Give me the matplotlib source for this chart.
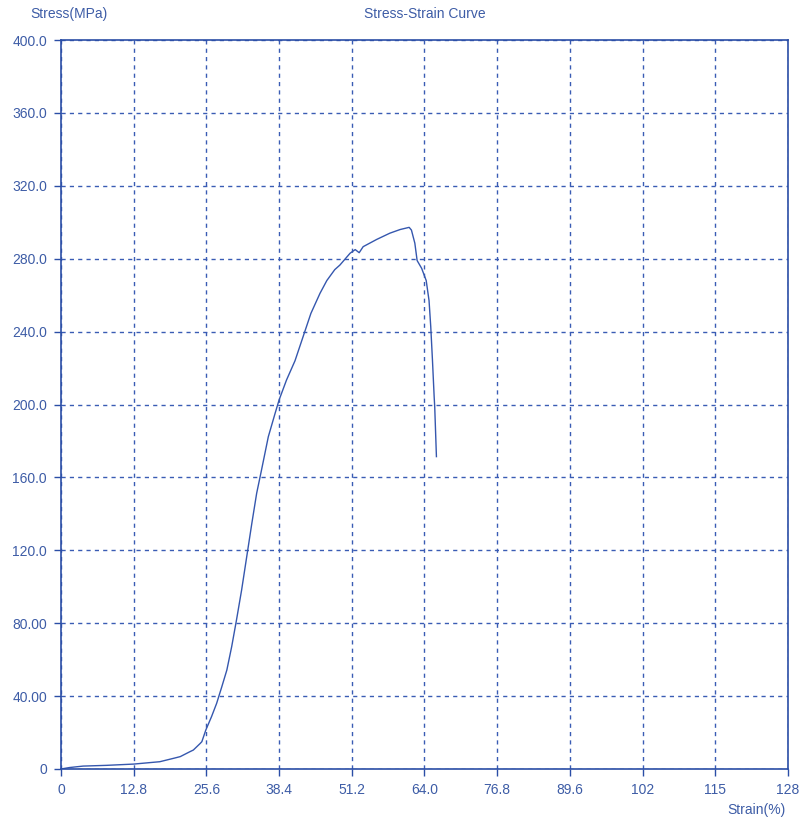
import matplotlib

matplotlib.use("Agg")
import matplotlib.pyplot as plt  # noqa: E402

# stress-strain test record, read at the plotted resolution
strain_pct = [0.0, 1.5, 3.9, 8.0, 12.8, 17.4, 20.0, 21.0, 22.7, 23.3, 24.5, 24.8,
              25.5, 26.5, 27.4, 28.3, 29.2, 30.05, 30.9, 31.8, 32.7, 33.6, 34.45,
              35.3, 36.5, 37.7, 38.4, 39.7, 41.2, 42.6, 44.0, 45.6, 46.8, 48.2,
              49.1, 50.9, 51.8, 52.5, 53.2, 55.6, 57.9, 59.7, 61.3, 61.7, 62.3,
              62.7, 63.5, 64.3, 64.8, 65.1, 65.4, 65.7, 65.8, 66.1]
stress_mpa = [0.0, 0.8, 1.6, 2.0, 2.7, 4.0, 6.0, 6.8, 9.5, 10.4, 14.0, 15.0,
              21.4, 28.7, 36.0, 45.0, 54.3, 67.1, 81.8, 98.2, 116.5, 134.8, 151.3,
              164.0, 182.3, 195.2, 202.5, 213.4, 224.0, 237.0, 250.0, 261.0, 268.0,
              274.0, 276.5, 283.0, 285.0, 283.3, 286.6, 290.6, 294.0, 296.0, 297.2,
              295.7, 288.5, 279.0, 274.7, 268.0, 257.0, 242.7, 224.4, 204.3, 198.7,
              171.4]

x_ticks = [0, 12.8, 25.6, 38.4, 51.2, 64.0, 76.8, 89.6, 102.4, 115.2, 128]
x_labels = ["0", "12.8", "25.6", "38.4", "51.2", "64.0", "76.8", "89.6", "102", "115", "128"]
y_ticks = [0, 40, 80, 120, 160, 200, 240, 280, 320, 360, 400]
y_labels = ["0", "40.00", "80.00", "120.0", "160.0", "200.0", "240.0", "280.0",
            "320.0", "360.0", "400.0"]

FRAME = "#2b4ea6"
GRID = "#3a5cb4"
CURVE = "#3557ae"
TEXT = "#3d5ca6"

plt.rcParams["font.family"] = ["Liberation Sans", "DejaVu Sans"]

fig = plt.figure(figsize=(8.04, 8.26), dpi=100)
ax = fig.add_axes([61 / 804, 57 / 826, 727 / 804, 729 / 826])

ax.plot(strain_pct, stress_mpa, color=CURVE, lw=1.0)

ax.set_xlim(0, 128)
ax.set_ylim(0, 400)
ax.set_xticks(x_ticks)
ax.set_xticklabels(x_labels)
ax.set_yticks(y_ticks)
ax.set_yticklabels(y_labels)
ax.tick_params(colors=FRAME, labelcolor=TEXT, labelsize=10, length=5, width=1, pad=5)

for sp in ax.spines.values():
    sp.set_color(FRAME)
    sp.set_linewidth(1.2)
    sp.set_zorder(3)

ax.grid(True, color=GRID, lw=1.0, ls=(0, (3, 3)))
ax.set_axisbelow(True)

fig.text(30 / 804, 1 - 14 / 826, "Stress(MPa)", color=TEXT, fontsize=10, va="center")
fig.text(425 / 804, 1 - 14 / 826, "Stress-Strain Curve", color=TEXT, fontsize=10,
         ha="center", va="center")
fig.text(786 / 804, 1 - 810 / 826, "Strain(%)", color=TEXT, fontsize=10,
         ha="right", va="center")

fig.savefig("out.png", dpi=100)
plt.close(fig)
